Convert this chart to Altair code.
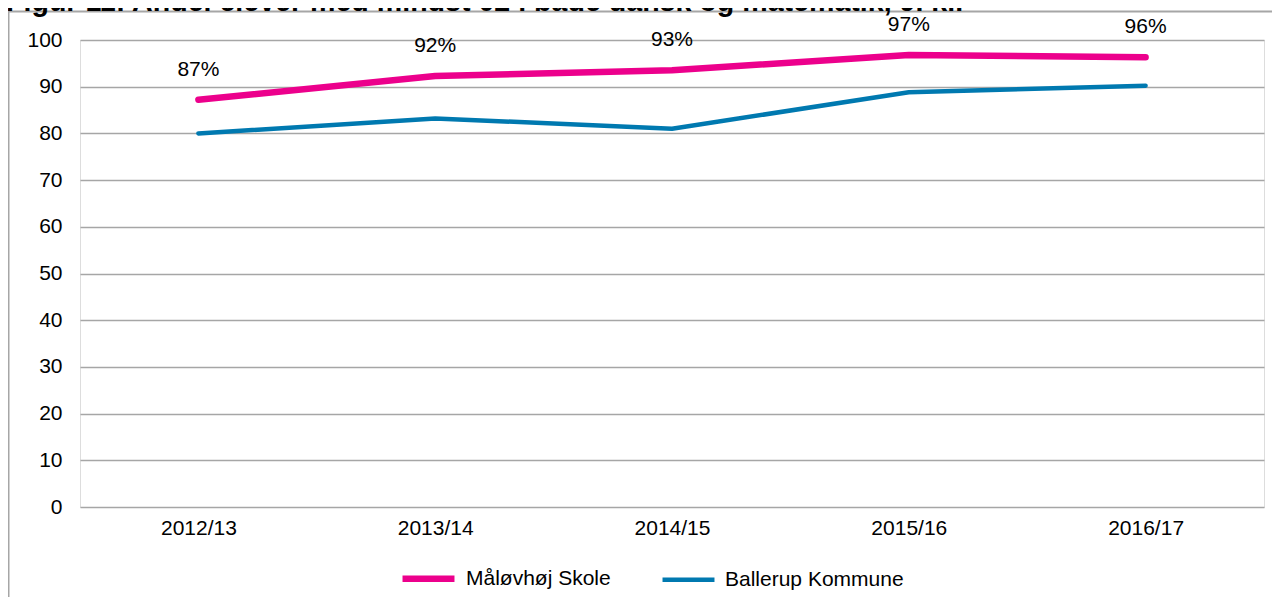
import altair as alt
import pandas as pd

title_text = "Figur 11: Andel elever med mindst 02 i både dansk og matematik, 9. kl."
categories = ["2012/13", "2013/14", "2014/15", "2015/16", "2016/17"]
series_names = ["Måløvhøj Skole", "Ballerup Kommune"]
maalov = [87.2, 92.3, 93.5, 96.8, 96.3]
ballerup = [80.0, 83.2, 81.0, 88.8, 90.2]
maalov_labels = ["87%", "92%", "93%", "97%", "96%"]

colors = ["#EC008C", "#0079B0"]
FONT = "Liberation Sans"

rows = []
for c, v, lab in zip(categories, maalov, maalov_labels):
    rows.append({"year": c, "value": v, "series": series_names[0], "label": lab})
for c, v in zip(categories, ballerup):
    rows.append({"year": c, "value": v, "series": series_names[1], "label": ""})
df = pd.DataFrame(rows)

W, H = 1184, 467
PL, PT, PR, PB = 72, 32, 8, 90

x = alt.X("year:N", sort=categories, title=None,
          scale=alt.Scale(type="point", padding=0.5),
          axis=alt.Axis(labelAngle=0, domain=False, ticks=False, grid=False,
                        labelFontSize=21, labelFont=FONT, labelColor="#000000",
                        labelPadding=10))
y = alt.Y("value:Q", title=None,
          scale=alt.Scale(domain=[0, 100], nice=False, zero=True),
          axis=alt.Axis(values=list(range(0, 101, 10)), domain=False, ticks=False,
                        grid=True, gridColor="#A6A6A6", gridWidth=1.3,
                        labelFontSize=21, labelFont=FONT, labelColor="#000000",
                        labelPadding=18))

lines = alt.Chart(df).mark_line(strokeCap="round", strokeJoin="round").encode(
    x=x, y=y,
    color=alt.Color("series:N", sort=series_names,
                    scale=alt.Scale(domain=series_names, range=colors),
                    legend=alt.Legend(title=None, orient="none", direction="horizontal",
                                      legendX=319, legendY=509,
                                      symbolType="stroke", symbolSize=2700,
                                      symbolStrokeWidth=6, labelFontSize=21,
                                      labelFont=FONT, labelColor="#000000",
                                      labelLimit=400,
                                      labelOffset=8, columnPadding=42, padding=0)),
    strokeWidth=alt.StrokeWidth("series:N", sort=series_names,
                                scale=alt.Scale(domain=series_names, range=[6.5, 4.5]),
                                legend=None),
)

labels = alt.Chart(df).transform_filter(
    alt.datum.series == series_names[0]
).mark_text(dy=-30, fontSize=21, font=FONT, color="#000000").encode(
    x=alt.X("year:N", sort=categories), y="value:Q", text="label:N"
)

tdf = pd.DataFrame({"t": [title_text]})
title = alt.Chart(tdf).mark_text(align="left", baseline="alphabetic", fontSize=28.6,
                                 fontWeight="bold", font=FONT, color="#000000").encode(
    text="t:N", x=alt.value(-PL - 2), y=alt.value(3 - PT)
)

frame_top = alt.Chart(tdf).mark_rule(color="#A6A6A6", strokeWidth=2).encode(
    x=alt.value(-PL), x2=alt.value(W + PR), y=alt.value(3.5 - PT)
)
frame_left = alt.Chart(tdf).mark_rule(color="#A6A6A6", strokeWidth=2).encode(
    x=alt.value(-PL + 0.5), y=alt.value(3.5 - PT), y2=alt.value(H + PB)
)

chart = alt.layer(frame_top, frame_left, title, lines, labels).properties(
    width=W, height=H,
    autosize=alt.AutoSizeParams(type="none"),
    padding={"left": PL, "top": PT, "right": PR, "bottom": PB},
).configure_view(stroke=None).configure(background="#FFFFFF")

chart.save("out.html", embed_options={"renderer": "svg", "actions": False})
